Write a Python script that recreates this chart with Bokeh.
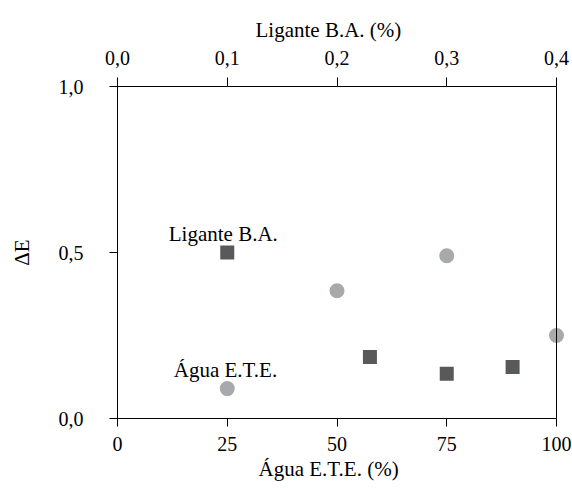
from bokeh.plotting import figure
from bokeh.models import Range1d, LinearAxis, FixedTicker, Label, Span, Title
from bokeh.embed import file_html
from bokeh.resources import INLINE

# Data
agua_pct = [25, 50, 75, 100]
agua_de = [0.09, 0.385, 0.49, 0.25]
ligante_pct = [0.10, 0.23, 0.30, 0.36]
ligante_de = [0.50, 0.185, 0.135, 0.155]

bottom_ticks = [0, 25, 50, 75, 100]
bottom_labels = ["0", "25", "50", "75", "100"]
top_ticks = [0.0, 0.1, 0.2, 0.3, 0.4]
top_labels = ["0,0", "0,1", "0,2", "0,3", "0,4"]
y_ticks = [0.0, 0.5, 1.0]
y_labels = ["0,0", "0,5", "1,0"]

FONT = "'Liberation Serif', 'Times New Roman', serif"

W, H = 572, 488
LEFT, RIGHT_BOX, TOP, BOTTOM = 117, 556, 86, 418   # plot box edges (px)
PAD = 10                                            # extra frame so edge markers are not clipped
box_w = RIGHT_BOX - LEFT
x_max, top_max = bottom_ticks[-1], top_ticks[-1]
x_end = x_max * (1 + PAD / box_w)
top_end = top_max * (1 + PAD / box_w)

p = figure(width=W, height=H, x_range=Range1d(0, x_end), y_range=Range1d(0, 1),
           output_backend="svg", toolbar_location=None,
           x_axis_location=None, y_axis_location=None,
           min_border_left=LEFT, min_border_right=W - RIGHT_BOX - PAD,
           min_border_top=TOP, min_border_bottom=H - BOTTOM)
p.extra_x_ranges = {"top": Range1d(0, top_end)}
p.grid.visible = False
p.outline_line_color = None
p.background_fill_color = "white"
p.border_fill_color = "white"


def style(ax, tick_font=20):
    ax.axis_line_color = "black"
    ax.major_tick_line_color = "black"
    ax.minor_tick_line_color = None
    ax.major_tick_in = 0
    ax.major_tick_out = 8
    ax.major_label_text_font = FONT
    ax.major_label_text_font_size = f"{tick_font}px"
    ax.major_label_text_color = "black"
    ax.axis_label_text_font = FONT
    ax.axis_label_text_font_size = "21px"
    ax.axis_label_text_font_style = "normal"
    ax.axis_label_text_color = "black"


xb = LinearAxis(ticker=FixedTicker(ticks=bottom_ticks), bounds=(0, x_max))
xb.major_label_overrides = {t: l for t, l in zip(bottom_ticks, bottom_labels)}
style(xb)
xb.major_label_standoff = 10
p.add_layout(xb, "below")
p.add_layout(Title(text="Água E.T.E. (%)", align="left", offset=141, standoff=2,
                   text_font=FONT, text_font_size="21px", text_font_style="normal",
                   text_color="black"), "below")

xt = LinearAxis(x_range_name="top", ticker=FixedTicker(ticks=top_ticks), bounds=(0, top_max))
xt.major_label_overrides = {t: l for t, l in zip(top_ticks, top_labels)}
style(xt)
xt.major_tick_out = 9
xt.major_label_standoff = 13
p.add_layout(xt, "above")
p.add_layout(Title(text="Ligante B.A. (%)", align="left", offset=138, standoff=12,
                   text_font=FONT, text_font_size="21px", text_font_style="normal",
                   text_color="black"), "above")

yl = LinearAxis(ticker=FixedTicker(ticks=y_ticks), axis_label="ΔE")
yl.major_label_overrides = {t: l for t, l in zip(y_ticks, y_labels)}
style(yl)
yl.major_label_standoff = 26
yl.axis_label_standoff = 22
p.add_layout(yl, "left")

# right edge of the box
p.add_layout(Span(location=x_max, dimension="height", line_color="black", line_width=1))

p.scatter(agua_pct, agua_de, marker="circle", size=15, fill_color="#a7a9ac", line_color=None)
p.scatter(ligante_pct, ligante_de, marker="square", size=14, fill_color="#58595b",
          line_color=None, x_range_name="top")

p.add_layout(Label(x=24.1, y=0.557, text="Ligante B.A.", text_align="center",
                   text_baseline="alphabetic", text_font=FONT, text_font_size="21px",
                   text_color="black"))
p.add_layout(Label(x=24.6, y=0.145, text="Água E.T.E.", text_align="center",
                   text_baseline="alphabetic", text_font=FONT, text_font_size="21px",
                   text_color="black"))

open("out.html", "w").write(file_html(p, INLINE))
